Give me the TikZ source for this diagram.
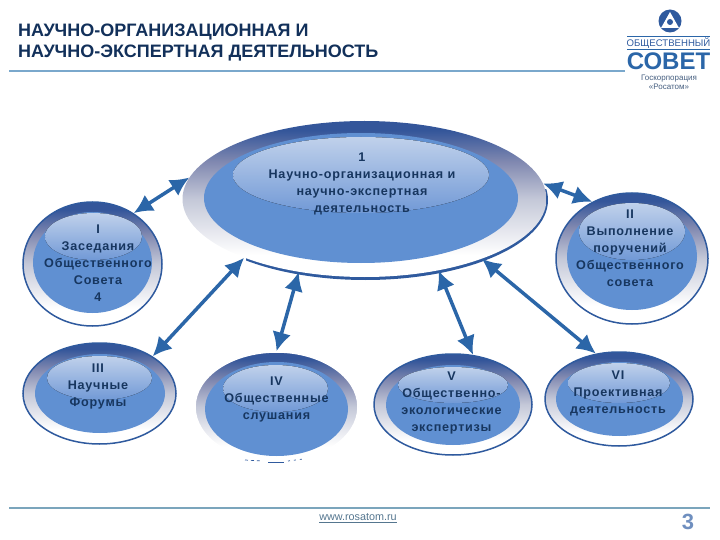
\documentclass[tikz,border=0pt]{standalone}
\usepackage{fontspec}
\setmainfont{Liberation Sans}
\newfontfamily\ballfont[LetterSpace=6]{Liberation Sans}
\usepackage{xcolor}
\usetikzlibrary{calc, shapes.geometric, positioning, arrows.meta}

\definecolor{edgeblue}{HTML}{2F5A9E}
\definecolor{ringtop}{HTML}{34569A}
\definecolor{ringmid}{HTML}{8088B0}
\definecolor{ringlow}{HTML}{C4C8D8}
\definecolor{ballblue}{HTML}{6090D2}
\definecolor{glowtop}{HTML}{C0D1EB}
\definecolor{glowbot}{HTML}{7199D6}
\definecolor{arrowblue}{HTML}{2B66A8}
\definecolor{inkblue}{HTML}{17365F}
\definecolor{titleblue}{HTML}{12305A}
\definecolor{rulegray}{HTML}{7AA8CC}
\definecolor{footgray}{HTML}{7BA5BC}
\definecolor{pageblue}{HTML}{6F8FBF}

\pgfdeclareverticalshading{ringshade}{100bp}{color(0bp)=(white); color(32bp)=(white); color(50bp)=(ringlow); color(62bp)=(ringmid); color(72bp)=(ringtop); color(100bp)=(ringtop)}

\tikzset{
    outerball/.style={ellipse, inner sep=0pt, shading=ringshade},
    innerball/.style={fill=ballblue},
    glowball/.style={top color=glowtop, bottom color=glowbot},
    balltext/.style={align=center, text=inkblue, font=\ballfont\bfseries\fontsize{12.6}{17}\selectfont},
    titletext/.style={anchor=west, inner sep=0pt, text=titleblue, font=\bfseries\fontsize{18}{20}\selectfont},
    linkarrow/.style={<->, >={Latex[length=19pt,width=19pt]}, arrowblue, line width=3.5pt}
}

\begin{document}
\begin{tikzpicture}[x=1pt, y=-1pt]
    \useasboundingbox (0,0) rectangle (720,540);

    % Tiêu đề
    \node[titletext] (title1) at (18,32) {НАУЧНО-ОРГАНИЗАЦИОННАЯ И};
    \node[titletext] (title2) at (18,53) {НАУЧНО-ЭКСПЕРТНАЯ ДЕЯТЕЛЬНОСТЬ};

    % Đường kẻ trên và dưới
    \fill[rulegray] (9,70) rectangle (625,72);
    \fill[footgray] (9,507) rectangle (710,509);

    % Vòng lớn ở giữa
    \begin{scope}
        \clip (246,190) rectangle (560,290);
        \fill[edgeblue] (365.5,200) ellipse [x radius=182.5, y radius=80];
    \end{scope}
    \node[outerball, minimum width=364pt, minimum height=156pt] (big) at (364.5,199) {};
    \fill[innerball] (361,198) ellipse [x radius=157, y radius=65];
    \fill[glowball] (361,175) ellipse [x radius=128, y radius=38];

    % Các vòng nhỏ: tên / tâm / cỡ / vòng trong / vòng sáng / viền
    \foreach \nm/\cx/\cy/\w/\h/\ix/\iy/\iw/\ih/\gx/\gy/\gw/\gh/\ln in {
        one/92.5/264/139/124/92.5/262.5/59.5/50.5/93.5/236.5/48.5/23.5/edgeblue,
        two/632/258.5/152/131/632/256.5/65/53.5/632/231.5/53/28.5/edgeblue,
        three/99.5/393.5/153/101/100/393.5/65/39.5/99.5/378/52.5/22/edgeblue,
        four/276.5/407/163/110/276.5/409/71.5/47/275.5/388.5/52.5/23.5/white,
        five/453/404.5/158/101/453/405/67/40/453/385/55/18/edgeblue,
        six/619/399/148/94/619.5/399/63.5/37/619/383/51/20/edgeblue} {
        \node[outerball, draw=\ln, line width=1.5pt, minimum width=\w pt, minimum height=\h pt] (\nm) at (\cx,\cy) {};
        \fill[innerball] (\ix,\iy) ellipse [x radius=\iw, y radius=\ih];
        \fill[glowball] (\gx,\gy) ellipse [x radius=\gw, y radius=\gh];
    }

    % Vệt đứt dưới vòng IV
    \draw[edgeblue, line width=0.7pt, dash pattern=on 3pt off 3pt] (245,460) -- (262,461);
    \draw[edgeblue, line width=1pt] (268,462) -- (284,462);
    \draw[edgeblue, line width=0.7pt, dash pattern=on 2pt off 4pt] (288,461) -- (303,459);

    % Chữ trong các vòng
    \node[balltext] (bigtext) at (362,184) {1\\Научно-организационная и\\научно-экспертная\\деятельность};
    \node[balltext] (onetext) at (98,263) {I\\Заседания\\Общественного\\Совета\\4};
    \node[balltext] (twotext) at (630,248) {II\\Выполнение\\поручений\\Общественного\\совета};
    \node[balltext] (threetext) at (98,386) {III\\Научные\\Форумы};
    \node[balltext] (fourtext) at (276.5,399) {IV\\Общественные\\слушания};
    \node[balltext] (fivetext) at (451.5,403) {V\\Общественно-\\экологические\\экспертизы};
    \node[balltext] (sixtext) at (618,393) {VI\\Проективная\\деятельность};

    % Mũi tên hai chiều
    \draw[linkarrow] (one.51.5) -- (big.173.9);
    \draw[linkarrow] (two.125.3) -- (big.5.4);
    \draw[linkarrow] (three.35) -- (big.206.3);
    \draw[linkarrow] (four.90) -- (big.228.8);
    \draw[linkarrow] (five.68) -- (big.-44);
    \draw[linkarrow] (six.117) -- (big.-27.4);

    % Chân trang
    \node[font=\fontsize{10.8}{12}\selectfont, text=rulegray!70!black] (site) at (358,518) {\underline{www.rosatom.ru}};
    \node[font=\bfseries\fontsize{22}{24}\selectfont, text=pageblue] (page) at (688,522) {3};

    % Biểu trưng
    \fill[edgeblue] (670,21) circle (11.5);
    \fill[white] (670,12) -- (679,28) -- (661,28) -- cycle;
    \fill[edgeblue] (670,22) circle (3);
    \fill[arrowblue] (627,36.5) rectangle (710,37.5);
    \node[font=\fontsize{9.6}{10}\selectfont, inner sep=0pt, text=edgeblue] (logotop) at (668.5,43) {ОБЩЕСТВЕННЫЙ};
    \fill[arrowblue] (627,49) rectangle (710,50.5);
    \node[font=\bfseries\fontsize{24}{26}\selectfont, inner sep=0pt, text=arrowblue] (logomain) at (668.5,61) {СОВЕТ};
    \node[font=\fontsize{8}{9}\selectfont, inner sep=0pt, align=center, text=inkblue!80] (logosub) at (669,82.5) {Госкорпорация\\«Росатом»};
\end{tikzpicture}
\end{document}
